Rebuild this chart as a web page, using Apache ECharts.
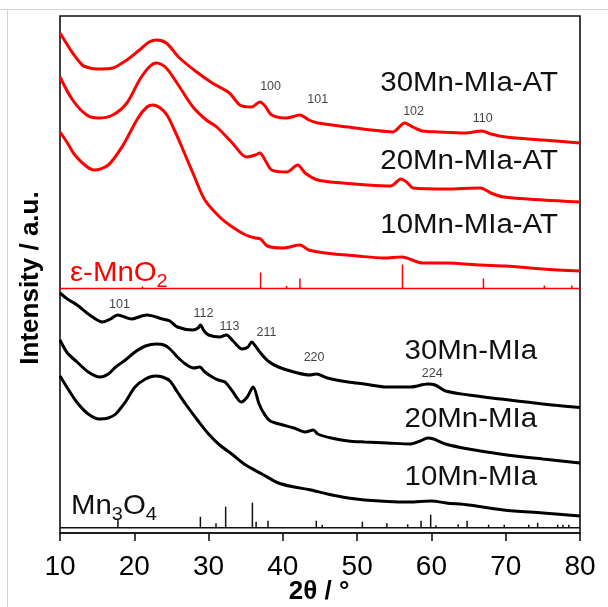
<!DOCTYPE html>
<html>
<head>
<meta charset="utf-8">
<script src="https://cdn.jsdelivr.net/npm/echarts@6/dist/echarts.min.js"></script>
<style>
  html, body { margin: 0; padding: 0; background: #fff; }
  #chart { width: 608px; height: 607px; }
</style>
</head>
<body>
<div id="chart"></div>
<script>
// XRD patterns, [2theta (deg), stacked intensity (a.u.)]
const mnO2_30AT = [[10,500],[11,488],[11.7,480],[13,468],[14,465],[15.1,464],[17.1,465],[19,473],[20.7,483],[22,491],[23,493],[24.3,490],[26.1,475],[28.4,461],[30.5,450],[32.8,440],[34.2,428],[35.8,426],[36.9,431],[37.6,427],[38.5,418],[40.5,415],[42.3,418],[43.5,413],[44.7,410],[48.8,406],[52,403],[54.8,401],[56.4,410],[57.5,406],[58.8,402],[61,401],[64.5,400],[66.8,402],[68,399],[70,396],[75,393],[80,390]];
const mnO2_20AT = [[10,456],[11.7,433],[13.6,418],[15.1,415],[17.1,418],[19,430],[20.7,453],[22,466],[23,470],[24.3,465],[26.1,446],[27.9,426],[29.7,413],[31.1,406],[33.2,390],[35.1,376],[36.3,378],[36.9,380],[37.6,373],[38.5,363],[40.5,361],[42,368],[43,360],[44.7,353],[48,350],[51.4,348],[54.5,347],[55.9,354],[56.8,350],[57.5,345],[62,344],[66.6,345],[68,340],[69.7,336],[75,333],[80,331]];
const mnO2_10AT = [[10,401],[11,390],[12,378],[13.5,367],[14.6,363],[16.5,368],[18.5,388],[20.5,415],[21.7,426],[22.5,428],[23.5,425],[24.4,418],[25.4,403],[26.4,386],[28,358],[29.5,333],[31.5,316],[33.2,306],[35,298],[36.3,295],[37,294],[37.9,287],[40,285],[42.3,288],[43.5,283],[45.7,280],[50,277],[53.6,275],[56,276],[58.8,270],[62,270],[66.6,268],[70,267],[75,264],[80,262]];

const mla30 = [[10,240],[11,234],[12.3,228],[14,218],[15.7,211],[16.8,214],[17.75,218],[19.6,214],[21,217],[21.7,218],[23.8,214],[24.8,212],[25.8,206],[27.9,203],[28.6,205],[28.9,208],[29.4,202],[30,198],[31.5,196],[32.4,198],[33.3,192],[34.5,184],[35.3,186],[35.8,191],[36.3,187],[36.9,181],[38,172],[39.4,166],[41.5,161],[43.6,158],[44.5,159],[46,155],[48.8,151],[51,149],[54.1,146],[57.2,146],[59.5,149],[60.5,148],[61.9,142],[65,138],[69.3,134],[75,129],[80,125.5]];
const mla20 = [[10,193],[11,180],[12.3,171],[13.8,161],[15.4,156],[16.5,159],[17.5,166],[18.8,173],[20.1,181],[21.5,187],[23,189],[24,188],[24.8,184],[25.8,176],[26.9,169],[28,165],[28.8,166],[29.5,161],[30.5,156],[31.3,153],[32.2,151],[33.2,142],[34.4,131],[35.2,136],[36,146],[36.8,129],[37.5,119],[38.3,112],[40,108],[41.5,105],[43,101],[44.1,103],[44.7,99],[46.5,95],[48.8,92],[51,91],[54.1,90],[57.2,89],[58.5,92],[59.5,95],[60.3,94],[61.9,89],[65,84],[69.7,78.5],[75,74],[80,70]];
const mla10 = [[10,157],[11,145],[12.3,130.5],[13.8,119],[15.3,114],[16.5,115],[17.5,119],[18.8,131],[20.1,146],[21.5,154],[22.8,157],[23.8,156],[24.8,152],[25.8,141],[26.9,129],[28.5,113],[30,99],[31.5,88],[33.2,78.5],[35,68],[37.3,58.5],[39.4,50],[41.5,46],[43.6,43.3],[46,39],[48.8,35],[51,33],[54.1,31.5],[57,31],[60,32],[62,30],[65,28],[69.7,23],[75,20],[80,17]];

// reference sticks: positions (deg) and relative heights
const epsMnO2Pos = [21.1, 37.0, 40.5, 42.3, 56.1, 67.0, 75.2, 78.9];
const epsMnO2Int = [2, 16, 2.5, 10, 24, 10, 3, 3];
const mn3o4Pos = [17.8, 28.9, 31.0, 32.3, 35.9, 36.4, 38.0, 44.5, 45.3, 50.7, 54.0, 56.8, 58.6, 59.9, 60.6, 63.6, 64.8, 67.7, 69.8, 73.1, 74.3, 77.0, 77.7, 78.5];
const mn3o4Int = [9, 11, 4.5, 21, 25, 6, 7, 7, 3, 6, 4.5, 3.5, 7, 13, 2.5, 3.5, 7, 3, 3, 3, 5, 3, 3, 3];
const epsBase = 244.5;
const mn3o4Base = 5.3;

// Miller indices: [2theta, intensity, text]
const hklUpper = [[38.35, 446, '100'], [44.7, 433, '101'], [57.6, 421, '102'], [66.9, 414, '110']];
const hklLower = [[18.0, 228, '101'], [29.3, 219, '112'], [32.8, 206, '113'], [37.8, 200, '211'], [44.2, 175, '220'], [60.1, 159, '224']];

const xTicks = [10, 20, 30, 40, 50, 60, 70, 80];

const FONT = '"Liberation Sans", Arial, sans-serif';
const chart = echarts.init(document.getElementById('chart'), null, { renderer: 'canvas' });

function pattern(name, data, color) {
  return {
    name, type: 'line', data, symbol: 'none', silent: true, animation: false,
    smooth: 0.3, lineStyle: { color, width: 3 }, z: 3
  };
}

function sticks(pos, ints, base, color) {
  return {
    type: 'custom', silent: true, animation: false, z: 2,
    data: pos.map((p, i) => [p, ints[i]]),
    renderItem(params, api) {
      const x = api.value(0), h = api.value(1);
      const p0 = api.coord([x, base]);
      const p1 = api.coord([x, base + h]);
      return { type: 'line', shape: { x1: p0[0], y1: p0[1], x2: p1[0], y2: p1[1] },
               style: { stroke: color, lineWidth: 1.5 } };
    }
  };
}

function baseline(base, color) {
  return {
    type: 'line', data: [[10, base], [80, base]], symbol: 'none', silent: true,
    animation: false, lineStyle: { color, width: 1.6 }, z: 2
  };
}

function hkl(list) {
  return {
    type: 'scatter', symbolSize: 0, silent: true, animation: false, z: 4,
    data: list.map(d => ({ value: [d[0], d[1]], label: { formatter: d[2] } })),
    label: { show: true, position: 'inside', color: '#111', fontSize: 12.5, fontFamily: FONT }
  };
}

// sample names, right-aligned; the typeface is drawn slightly wide
function nameText(text, x, y) {
  return { type: 'text', x, y, scaleX: 1.09, silent: true,
    style: { text, fill: '#111', font: '27px ' + FONT, align: 'right', verticalAlign: 'middle' } };
}

// chemical formula with subscripts: parts alternate main / subscript
function phaseText(parts, x, y, color) {
  const text = parts.map((p, i) => (i % 2 ? '{b|' : '{a|') + p + '}').join('');
  return { type: 'text', x, y, scaleX: 1.05, silent: true,
    style: { text, align: 'left', verticalAlign: 'middle',
      rich: {
        a: { fontSize: 28, fontFamily: FONT, fill: color, lineHeight: 30, verticalAlign: 'bottom' },
        b: { fontSize: 19, fontFamily: FONT, fill: color, lineHeight: 30, verticalAlign: 'bottom', padding: [0, 0, -4, 0] }
      } } };
}

chart.setOption({
  backgroundColor: '#fff',
  animation: false,
  grid: { left: 60, right: 28, top: 16, bottom: 74, show: true, borderColor: '#111', borderWidth: 1.6, backgroundColor: 'transparent' },
  xAxis: {
    type: 'value', min: xTicks[0], max: xTicks[xTicks.length - 1], interval: 10,
    axisLine: { show: true, lineStyle: { color: '#111', width: 1.6 } },
    axisTick: { show: true, inside: false, length: 8, lineStyle: { color: '#111', width: 1.6 } },
    axisLabel: { color: '#000', fontSize: 28, fontFamily: FONT, margin: 20 },
    splitLine: { show: false }
  },
  yAxis: { type: 'value', min: 0, max: 517, show: false, splitLine: { show: false } },
  series: [
    baseline(epsBase, '#ff0000'),
    baseline(mn3o4Base, '#111'),
    sticks(epsMnO2Pos, epsMnO2Int, epsBase, '#ff0000'),
    sticks(mn3o4Pos, mn3o4Int, mn3o4Base, '#111'),
    pattern('30Mn-MIa-AT', mnO2_30AT, '#ff0000'),
    pattern('20Mn-MIa-AT', mnO2_20AT, '#ff0000'),
    pattern('10Mn-MIa-AT', mnO2_10AT, '#ff0000'),
    pattern('30Mn-MIa', mla30, '#000'),
    pattern('20Mn-MIa', mla20, '#000'),
    pattern('10Mn-MIa', mla10, '#000'),
    hkl(hklUpper),
    hkl(hklLower)
  ],
  graphic: [
    { type: 'line', shape: { x1: 0, y1: 9.5, x2: 608, y2: 9.5 }, style: { stroke: '#d4d4d4', lineWidth: 1 }, silent: true },
    { type: 'line', shape: { x1: 7.5, y1: 9.5, x2: 7.5, y2: 607 }, style: { stroke: '#d4d4d4', lineWidth: 1 }, silent: true },
    nameText('30Mn-MIa-AT', 558, 84),
    nameText('20Mn-MIa-AT', 558, 162),
    nameText('10Mn-MIa-AT', 558, 226),
    nameText('30Mn-MIa', 537, 352),
    nameText('20Mn-MIa', 537, 420),
    nameText('10Mn-MIa', 537, 478),
    phaseText(['ε-MnO', '2'], 70, 272, '#ff0000'),
    phaseText(['Mn', '3', 'O', '4'], 71, 505, '#111'),
    { type: 'text', x: 319, y: 592, silent: true,
      style: { text: '2θ / °', fill: '#000', font: 'bold 26px ' + FONT, align: 'center', verticalAlign: 'middle' } },
    { type: 'text', x: 31, y: 278, rotation: Math.PI / 2, silent: true,
      style: { text: 'Intensity / a.u.', fill: '#000', font: 'bold 26px ' + FONT, align: 'center', verticalAlign: 'middle' } }
  ]
});
</script>
</body>
</html>
